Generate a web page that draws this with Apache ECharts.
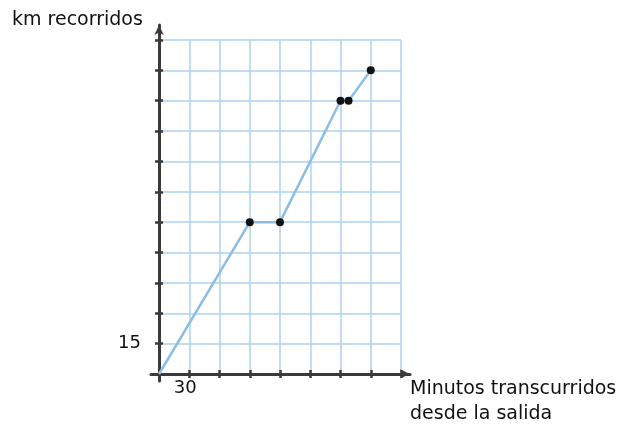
<!DOCTYPE html>
<html>
<head>
<meta charset="utf-8">
<script src="https://cdn.jsdelivr.net/npm/echarts@6/dist/echarts.min.js"></script>
<style>html,body{margin:0;padding:0;background:#fff;}#c{width:626px;height:432px;}</style>
</head>
<body>
<div id="c"></div>
<script>
// Data
const minutes = [0, 90, 120, 180, 188, 210];
const km = [0, 75, 75, 135, 135, 150];
const xTickLabels = {30: '30'};
const yTickLabels = {15: '15'};
const yAxisTitle = 'km recorridos';
const xAxisTitle = 'Minutos transcurridos\ndesde la salida';

const FONT = 'DejaVu Sans';
const AX = '#3a3a3a';
const GRIDC = '#abd2ef';

const chart = echarts.init(document.getElementById('c'), null, {renderer: 'canvas'});

function xAxisBase(extra) {
  return Object.assign({
    type: 'value', gridIndex: 0, min: 0, max: 240, interval: 30, position: 'bottom',
    axisLine: {show: false},
    splitLine: {show: false},
    axisLabel: {show: false},
    axisTick: {show: true, length: 4, lineStyle: {color: AX, width: 2.5}}
  }, extra);
}
function yAxisBase(extra) {
  return Object.assign({
    type: 'value', gridIndex: 0, min: 0, max: 165, interval: 15, position: 'left',
    axisLine: {show: false},
    splitLine: {show: false},
    axisLabel: {show: false},
    axisTick: {show: true, length: 4, lineStyle: {color: AX, width: 2.5}}
  }, extra);
}

const option = {
  backgroundColor: '#ffffff',
  animation: false,
  grid: [
    {left: 159, top: 40, width: 242, height: 334, show: false},
    {left: 151, top: 25, width: 259, height: 356, show: false}
  ],
  xAxis: [
    xAxisBase({
      splitLine: {show: true, lineStyle: {color: GRIDC, width: 1.5}},
      axisLabel: {show: true, margin: 5, fontFamily: FONT, fontSize: 18, color: '#111',
        padding: [0, 8, 0, 0],
        formatter: v => xTickLabels[v] || ''}
    }),
    xAxisBase({axisTick: {show: true, inside: true, length: 4, lineStyle: {color: AX, width: 2.5}}}),
    {
      type: 'value', gridIndex: 1, min: -8, max: 249,
      axisLine: {show: true, onZero: true, symbol: ['none', 'arrow'], symbolSize: [7, 10], symbolOffset: [0, 0],
        lineStyle: {color: AX, width: 3}},
      axisTick: {show: false}, axisLabel: {show: false}, splitLine: {show: false}
    }
  ],
  yAxis: [
    yAxisBase({
      splitLine: {show: true, lineStyle: {color: GRIDC, width: 1.5}},
      axisLabel: {show: true, margin: 18, fontFamily: FONT, fontSize: 18, color: '#111',
        padding: [0, 0, 6, 0],
        formatter: v => yTickLabels[v] || ''}
    }),
    yAxisBase({axisTick: {show: true, inside: true, length: 4, lineStyle: {color: AX, width: 2.5}}}),
    {
      type: 'value', gridIndex: 1, min: -3.5, max: 172.4,
      axisLine: {show: true, onZero: true, symbol: ['none', 'arrow'], symbolSize: [7, 10],
        lineStyle: {color: AX, width: 3}},
      axisTick: {show: false}, axisLabel: {show: false}, splitLine: {show: false}
    }
  ],
  series: [{
    type: 'line',
    xAxisIndex: 0, yAxisIndex: 0,
    data: minutes.map((m, i) => ({value: [m, km[i]], symbolSize: i === 0 ? 0 : 8})),
    symbol: 'circle',
    showAllSymbol: true,
    z: 5,
    lineStyle: {color: '#8cbde4', width: 2.5},
    itemStyle: {color: '#111', borderWidth: 0}
  }],
  graphic: [
    {type: 'text', left: 12, top: 11, style: {text: yAxisTitle, font: '19px "' + FONT + '"', fill: '#111'}},
    {type: 'text', left: 410, top: 377, style: {text: xAxisTitle, font: '19px "' + FONT + '"', fill: '#111', lineHeight: 25}}
  ]
};
chart.setOption(option);
</script>
</body>
</html>
